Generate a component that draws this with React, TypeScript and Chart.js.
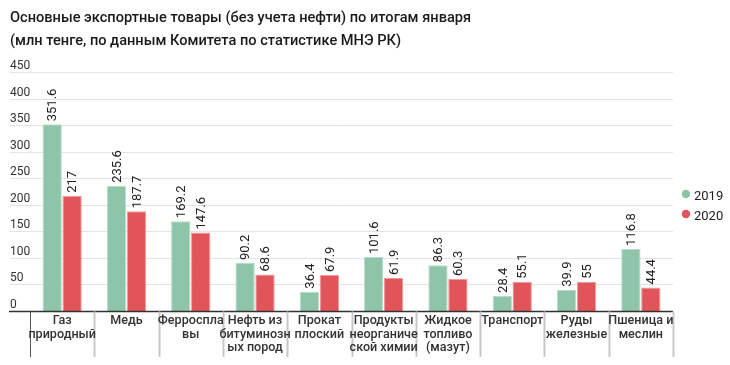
import React, { useEffect, useRef } from "react";
import { Chart, registerables } from "chart.js";

Chart.register(...registerables);

const categories: string[][] = [
  ["Газ", "природный"],
  ["Медь"],
  ["Ферроспла", "вы"],
  ["Нефть из", "битуминозн", "ых пород"],
  ["Прокат", "плоский"],
  ["Продукты", "неорганиче", "ской химии"],
  ["Жидкое", "топливо", "(мазут)"],
  ["Транспорт"],
  ["Руды", "железные"],
  ["Пшеница и", "меслин"],
];
const values2019 = [351.6, 235.6, 169.2, 90.2, 36.4, 101.6, 86.3, 28.4, 39.9, 116.8];
const values2020 = [217, 187.7, 147.6, 68.6, 67.9, 61.9, 60.3, 55.1, 55, 44.4];
const yTicks = [0, 50, 100, 150, 200, 250, 300, 350, 400, 450];
const titleLines = [
  "Основные экспортные товары (без учета нефти) по итогам января",
  "(млн тенге, по данным Комитета по статистике МНЭ РК)",
];
const seriesNames = ["2019", "2020"];
const colors = ["#8ec4a7", "#e0545a"];

const FONT = "Roboto, 'Noto Sans', sans-serif";

const drawPlugin = {
  id: "custom",
  beforeDatasetsDraw(chart: any) {
    const ctx = chart.ctx;
    const y = chart.scales.y;
    const area = chart.chartArea;
    ctx.save();
    ctx.font = `12px ${FONT}`;
    ctx.fillStyle = "#333";
    ctx.textAlign = "left";
    ctx.textBaseline = "alphabetic";
    yTicks.forEach((t) => {
      const py = Math.round(y.getPixelForValue(t)) + 0.5;
      if (t !== 0) {
        ctx.strokeStyle = "#e3e3e3";
        ctx.lineWidth = 1;
        ctx.beginPath();
        ctx.moveTo(10, py);
        ctx.lineTo(area.right, py);
        ctx.stroke();
      }
      ctx.fillText(String(t), 10, py - 4);
    });
    ctx.restore();
  },
  afterDatasetsDraw(chart: any) {
    const ctx = chart.ctx;
    const x = chart.scales.x;
    const area = chart.chartArea;
    ctx.save();
    // value labels
    ctx.font = `13px ${FONT}`;
    ctx.fillStyle = "#222";
    chart.data.datasets.forEach((ds: any, di: number) => {
      const meta = chart.getDatasetMeta(di);
      meta.data.forEach((bar: any, i: number) => {
        const v = ds.data[i];
        ctx.save();
        ctx.translate(bar.x, bar.y - 3);
        ctx.rotate(-Math.PI / 2);
        ctx.textAlign = "left";
        ctx.textBaseline = "middle";
        ctx.fillText(String(v), 0, 1);
        ctx.restore();
      });
    });
    // axis line
    const base = Math.round(area.bottom) + 0.5;
    ctx.strokeStyle = "#333";
    ctx.lineWidth = 1.5;
    ctx.beginPath();
    ctx.moveTo(9, base);
    ctx.lineTo(area.right, base);
    ctx.stroke();
    // separators
    const n = categories.length;
    const w = (area.right - area.left) / n;
    for (let i = 0; i <= n; i++) {
      const sx = Math.round(area.left + i * w) + 0.5;
      ctx.strokeStyle = i === 0 ? "#555" : "#c8c8c8";
      ctx.lineWidth = i === 0 ? 1 : 2;
      ctx.beginPath();
      ctx.moveTo(sx, base);
      ctx.lineTo(sx, 357);
      ctx.stroke();
    }
    // category labels
    ctx.font = `500 12.6px ${FONT}`;
    ctx.fillStyle = "#333";
    ctx.textAlign = "center";
    ctx.textBaseline = "middle";
    categories.forEach((lines, i) => {
      const cx = x.getPixelForValue(i);
      lines.forEach((l, li) => {
        ctx.fillText(l, cx, 321 + li * 13.5);
      });
    });
    // title
    ctx.font = `500 14.6px ${FONT}`;
    ctx.fillStyle = "#1a1a1a";
    ctx.textAlign = "left";
    ctx.textBaseline = "middle";
    titleLines.forEach((t, i) => ctx.fillText(t, 10, 18 + i * 23));
    // legend
    ctx.font = `13px ${FONT}`;
    seriesNames.forEach((s, i) => {
      const ly = 194 + i * 20;
      ctx.fillStyle = colors[i];
      ctx.beginPath();
      ctx.arc(686, ly, 4.2, 0, Math.PI * 2);
      ctx.fill();
      ctx.fillStyle = "#222";
      ctx.fillText(s, 694, ly + 3);
    });
    ctx.restore();
  },
};

export default function App() {
  const ref = useRef<HTMLCanvasElement>(null);
  useEffect(() => {
    document.body.style.margin = "0";
    const chart = new Chart(ref.current!, {
      type: "bar",
      data: {
        labels: categories.map((c) => c.join(" ")),
        datasets: [
          {
            label: seriesNames[0],
            data: values2019,
            backgroundColor: colors[0],
            borderColor: "#b9dcc9",
            borderWidth: { top: 1, left: 1, right: 1, bottom: 0 },
          },
          {
            label: seriesNames[1],
            data: values2020,
            backgroundColor: colors[1],
            borderColor: "#ee9a9d",
            borderWidth: { top: 1, left: 1, right: 1, bottom: 0 },
          },
        ],
      },
      options: {
        animation: false,
        responsive: false,
        maintainAspectRatio: false,
        events: [],
        layout: { padding: { left: 30, right: 57, top: 72, bottom: 54 } },
        datasets: { bar: { categoryPercentage: 0.62, barPercentage: 0.97 } },
        scales: {
          x: { display: false },
          y: { display: false, min: 0, max: 450 },
        },
        plugins: {
          legend: { display: false },
          title: { display: false },
          tooltip: { enabled: false },
        },
      },
      plugins: [drawPlugin],
    });
    return () => chart.destroy();
  }, []);
  return <canvas ref={ref} width={730} height={365} style={{ display: "block" }} />;
}
